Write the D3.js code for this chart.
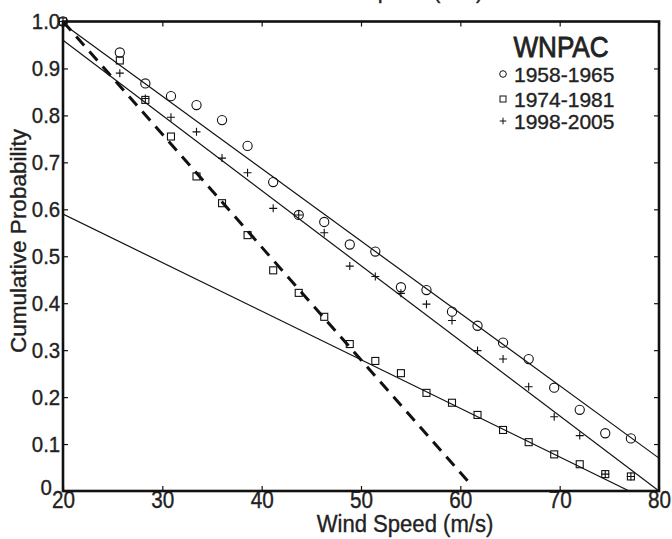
<!DOCTYPE html>
<html>
<head>
<meta charset="utf-8">
<script src="https://cdn.jsdelivr.net/npm/d3@7"></script>
<style>
  body { margin: 0; background: #fff; }
  svg text { font-family: "Liberation Sans", Arial, sans-serif; fill: #222; stroke: #222; stroke-width: 0.35px; }
</style>
</head>
<body>
<svg class="chart"></svg>
<script>
const size = { w: 672, h: 539 };
const margin = { top: 21.5, right: 13, bottom: 48, left: 63 };

// wind speed bins (m/s), 5 kt steps after the first one
const speeds = [20, 25.72, 28.29, 30.87, 33.44, 36.01, 38.58, 41.16, 43.73, 46.3, 48.87,
	51.44, 54.02, 56.59, 59.16, 61.73, 64.3, 66.88, 69.45, 72.02, 74.59, 77.17];

// cumulative probability per period
const p1958 = [1.0, 0.934, 0.868, 0.841, 0.822, 0.79, 0.735, 0.658, 0.588, 0.573, 0.525,
	0.51, 0.434, 0.428, 0.382, 0.352, 0.316, 0.281, 0.22, 0.173, 0.123, 0.112];
const p1974 = [1.0, 0.917, 0.833, 0.755, 0.67, 0.613, 0.545, 0.47, 0.422, 0.371, 0.313,
	0.277, 0.251, 0.209, 0.188, 0.162, 0.13, 0.104, 0.078, 0.057, 0.036, 0.031];
const p1998 = [1.0, 0.89, 0.836, 0.796, 0.765, 0.709, 0.678, 0.602, 0.588, 0.55, 0.479,
	0.457, 0.421, 0.398, 0.363, 0.299, 0.281, 0.222, 0.158, 0.118, 0.036, 0.031];

// fitted lines [speed, prob]
const fit1958 = [[20, 0.995], [80, 0.07]];
const fit1998 = [[20, 0.96], [80, 0.0]];
const fit1974a = [[20, 1.0], [60.8, 0.02]]; // dashed
const fit1974b = [[20, 0.59], [77, 0.0]];

const xTicks = [20, 30, 40, 50, 60, 70, 80];
const yTicks = [0, 0.1, 0.2, 0.3, 0.4, 0.5, 0.6, 0.7, 0.8, 0.9, 1.0];
const periods = ["1958-1965", "1974-1981", "1998-2005"];
const regionName = "WNPAC";

const svg = d3.select("svg.chart").attr("width", size.w).attr("height", size.h);

const x = d3.scaleLinear().domain([20, 80]).range([margin.left, size.w - margin.right]);
const y = d3.scaleLinear().domain([0, 1]).range([size.h - margin.bottom, margin.top]);

svg.append("clipPath").attr("id", "plot")
	.append("rect")
	.attr("x", x(20)).attr("y", y(1))
	.attr("width", x(80) - x(20)).attr("height", y(0) - y(1));

// lines
const lineFn = d3.line().x(d => x(d[0])).y(d => y(d[1]));
const fits = [
	{ pts: fit1958, dash: false },
	{ pts: fit1998, dash: false },
	{ pts: fit1974b, dash: false },
	{ pts: fit1974a, dash: true },
];
svg.append("g").attr("clip-path", "url(#plot)")
	.selectAll("path")
	.data(fits)
	.join("path")
	.attr("d", d => lineFn(d.pts))
	.attr("fill", "none")
	.attr("stroke", "#111")
	.attr("stroke-width", d => d.dash ? 3 : 1.2)
	.attr("stroke-dasharray", d => d.dash ? "12,8" : null);

// markers
const pts = (arr) => arr.map((p, i) => [speeds[i], p]);
const markG = svg.append("g").attr("fill", "none").attr("stroke", "#111").attr("stroke-width", 1.1);

markG.selectAll("circle.m58")
	.data(pts(p1958))
	.join("circle")
	.attr("class", "m58")
	.attr("cx", d => x(d[0])).attr("cy", d => y(d[1]))
	.attr("r", 4.6);

markG.selectAll("rect.m74")
	.data(pts(p1974))
	.join("rect")
	.attr("class", "m74")
	.attr("x", d => x(d[0]) - 3.5).attr("y", d => y(d[1]) - 3.5)
	.attr("width", 7).attr("height", 7);

const plusPath = (cx, cy, s) => `M${cx - s},${cy}H${cx + s}M${cx},${cy - s}V${cy + s}`;
markG.selectAll("path.m98")
	.data(pts(p1998))
	.join("path")
	.attr("class", "m98")
	.attr("d", d => plusPath(x(d[0]), y(d[1]), 4));

// axes
const yFmt = d => d === 0 ? "0" : d.toFixed(1);
const axBottom = svg.append("g")
	.attr("transform", `translate(0,${y(0)})`)
	.call(d3.axisBottom(x).tickValues(xTicks).tickSizeInner(-5).tickSizeOuter(0).tickPadding(1));
const axLeft = svg.append("g")
	.attr("transform", `translate(${x(20)},0)`)
	.call(d3.axisLeft(y).tickValues(yTicks).tickFormat(yFmt).tickSizeInner(-5).tickSizeOuter(0).tickPadding(3));
const axTop = svg.append("g")
	.attr("transform", `translate(0,${y(1)})`)
	.call(d3.axisTop(x).tickValues(xTicks).tickFormat("").tickSizeInner(-5).tickSizeOuter(0));
const axRight = svg.append("g")
	.attr("transform", `translate(${x(80)},0)`)
	.call(d3.axisRight(y).tickValues(yTicks).tickFormat("").tickSizeInner(-5).tickSizeOuter(0));

[axBottom, axLeft, axTop, axRight].forEach(g => {
	g.select(".domain").remove();
	g.selectAll(".tick line").attr("stroke", "#111").attr("stroke-width", 1.2);
	g.selectAll(".tick text").attr("fill", "#222")
		.style("font-family", '"Liberation Sans", Arial, sans-serif');
});
// slightly condensed tick labels
axBottom.selectAll(".tick text").attr("font-size", 23).attr("transform", "scale(0.9,1)");
axLeft.selectAll(".tick text").attr("font-size", 22).attr("transform", "scale(0.93,1)");
// the "0" label sits lower-left, away from the "20"
axLeft.selectAll(".tick text").filter(d => d === 0).attr("dx", -9).attr("dy", "0.15em");

// frame
svg.append("rect")
	.attr("x", x(20)).attr("y", y(1))
	.attr("width", x(80) - x(20)).attr("height", y(0) - y(1))
	.attr("fill", "none").attr("stroke", "#111").attr("stroke-width", 2.6);

// axis titles
svg.append("text")
	.attr("transform", "translate(405,532) scale(0.96,1)")
	.attr("text-anchor", "middle").attr("font-size", 23)
	.text("Wind Speed (m/s)");
svg.append("text")
	.attr("transform", "translate(26,241) rotate(-90)")
	.attr("text-anchor", "middle").attr("font-size", 22.5)
	.text("Cumulative Probability");
// cut-off title from the panel above
svg.append("text")
	.attr("transform", "translate(395,-2) scale(0.96,1)")
	.attr("text-anchor", "middle").attr("font-size", 23)
	.text("Wind Speed (m/s)");

// legend
svg.append("text")
	.attr("transform", "translate(561,57) scale(0.9,1)")
	.attr("text-anchor", "middle").attr("font-size", 29)
	.style("stroke-width", "0.8px")
	.text(regionName);
const legY = [74, 99, 121];
const leg = svg.append("g");
leg.selectAll("text.item")
	.data(periods)
	.join("text")
	.attr("class", "item")
	.attr("x", 514).attr("y", (d, i) => legY[i] + 7.5)
	.attr("font-size", 21)
	.text(d => d);
const lm = leg.append("g").attr("fill", "none").attr("stroke", "#111").attr("stroke-width", 1);
lm.append("circle").attr("cx", 503).attr("cy", legY[0]).attr("r", 3.3);
lm.append("rect").attr("x", 500).attr("y", legY[1] - 3).attr("width", 6).attr("height", 6);
lm.append("path").attr("d", plusPath(503, legY[2], 3.3));
</script>
</body>
</html>
